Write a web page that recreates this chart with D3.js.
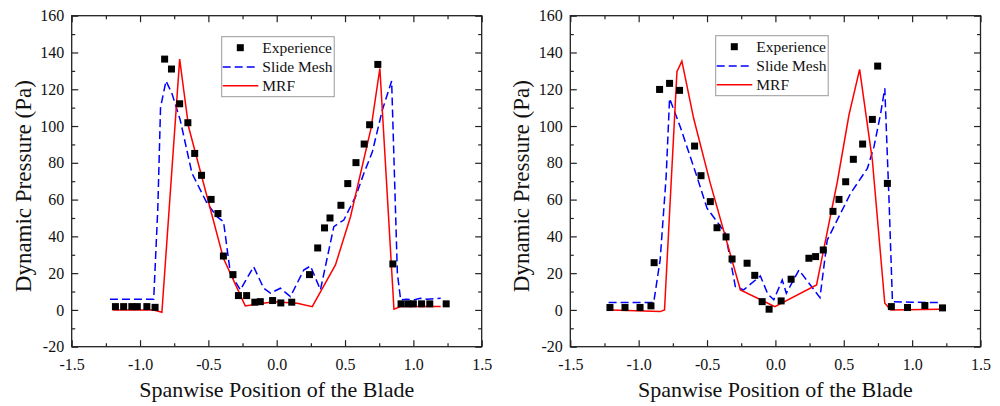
<!DOCTYPE html>
<html>
<head>
<meta charset="utf-8">
<script src="https://cdn.jsdelivr.net/npm/d3@7"></script>
<style>
  body { margin: 0; background: #fff; }
</style>
</head>
<body>
<svg id="chart"></svg>
<script>
const svgWidth = 1000;
const svgHeight = 406;

// x ticks / y ticks
const xMajor = [-1.5, -1.0, -0.5, 0.0, 0.5, 1.0, 1.5];
const xMinor = [-1.25, -0.75, -0.25, 0.25, 0.75, 1.25];
const yMajor = [-20, 0, 20, 40, 60, 80, 100, 120, 140, 160];
const yMinor = [-10, 10, 30, 50, 70, 90, 110, 130, 150];

const legendNames = ['Experience', 'Slide Mesh', 'MRF'];

// left panel
const expL_x = [-1.18,-1.12,-1.06,-1.02,-0.95,-0.89,-0.82,-0.77,-0.71,-0.65,-0.60,-0.55,-0.48,-0.43,-0.39,-0.32,-0.28,-0.22,-0.16,-0.12,-0.03,0.03,0.11,0.24,0.30,0.35,0.39,0.47,0.52,0.58,0.64,0.68,0.74,0.85,0.91,0.96,1.00,1.06,1.12,1.24];
const expL_y = [1.8,1.8,1.8,1.8,1.8,1.4,136.4,131.0,112.1,101.8,85.1,73.2,60.1,52.4,29.3,19.2,7.8,7.8,4.2,4.5,5.1,3.8,4.2,19.2,33.7,44.6,50.0,56.9,68.7,80.1,90.2,100.7,133.5,25.0,3.3,3.3,3.3,3.3,3.3,3.3];

const smL_x = [-1.22,-0.90,-0.87,-0.85,-0.81,-0.767,-0.706,-0.62,-0.51,-0.437,-0.389,-0.339,-0.266,-0.169,-0.095,-0.046,0.027,0.10,0.198,0.247,0.32,0.418,0.491,0.577,0.638,0.70,0.773,0.841,0.883,0.907,0.95,1.0,1.05,1.1,1.2];
const smL_y = [5.8,5.8,55,110,124.5,117.8,103.3,74.3,58,50.7,48,19.9,10.9,23.5,11.8,9.1,11.8,7.2,21.7,23.9,10.9,45.3,48.9,61.6,74.3,86,108.7,124.5,19.9,5.4,5.8,5.4,6.3,5.8,6.3];

const mrfL_x = [-1.20,-0.90,-0.84,-0.71,-0.645,-0.39,-0.23,-0.02,0.15,0.26,0.43,0.54,0.69,0.755,0.858,0.907,1.20];
const mrfL_y = [0,0,-1.3,136.4,99.6,28.1,2.2,4.5,3.6,1.8,24.5,50.7,98.7,131.3,0.4,1.8,1.8];

// right panel
const expR_x = [-1.21,-1.10,-0.99,-0.91,-0.887,-0.847,-0.774,-0.701,-0.591,-0.544,-0.476,-0.427,-0.361,-0.317,-0.207,-0.151,-0.097,-0.046,0.042,0.115,0.245,0.294,0.35,0.421,0.465,0.514,0.57,0.638,0.709,0.748,0.819,0.848,0.966,1.093,1.222];
const expR_y = [1.3,1.3,1.3,2.2,25.7,119.9,123.2,119.4,89.1,73.0,58.9,44.7,39.7,27.7,25.4,18.8,4.5,0.4,4.9,16.7,28.1,29.0,32.6,53.6,60.1,69.7,81.9,90.2,103.6,132.6,68.8,1.8,1.3,2.4,1.1];

const smR_x = [-1.22,-0.89,-0.843,-0.799,-0.774,-0.696,-0.574,-0.50,-0.427,-0.366,-0.293,-0.232,-0.11,-0.056,-0.012,0.05,0.08,0.172,0.326,0.379,0.428,0.55,0.673,0.721,0.77,0.80,0.831,0.856,1.0,1.198];
const smR_y = [4,4,27.2,72.5,115,99.6,72.5,55.3,48,41.7,12.7,10.9,18.5,8.7,5.5,16.3,9,21.7,6.7,38,45.3,63.4,77,88.8,106.9,120.5,59.8,4.5,4.2,4];

const mrfR_x = [-1.20,-0.843,-0.811,-0.72,-0.684,-0.598,-0.476,-0.256,-0.004,0.301,0.453,0.538,0.616,0.709,0.80,0.844,1.198];
const mrfR_y = [0,-0.9,0,129.5,135.3,104.2,68.8,10.9,1.8,13.6,69.7,106,130.8,81.5,3.6,0,0.4];

const zip = (xs, ys) => xs.map((x, i) => [x, ys[i]]);

// pick a Times-like font that is actually installed
const pickFont = () => {
  const ctx = document.createElement('canvas').getContext('2d');
  const sample = 'Spanwise Position 0.5 Experience';
  ctx.font = '40px monospace';
  const base = ctx.measureText(sample).width;
  const names = ['Liberation Serif', 'Times New Roman', 'Tinos', 'Nimbus Roman', 'DejaVu Serif', 'Noto Serif'];
  for (const n of names) {
    ctx.font = "40px '" + n + "', monospace";
    if (ctx.measureText(sample).width !== base) return "'" + n + "'";
  }
  return 'serif';
};
const fontFamily = pickFont();

const svg = d3.select('#chart')
  .attr('width', svgWidth)
  .attr('height', svgHeight)
  .style('font-family', fontFamily);

const plotTop = 15.7, plotBottom = 346.7;

const drawPanel = (left, right, data, legendX, legendY) => {
  const xScale = d3.scaleLinear().domain([-1.5, 1.5]).range([left, right]);
  const yScale = d3.scaleLinear().domain([-20, 160]).range([plotBottom, plotTop]);

  const g = svg.append('g');

  // minor ticks
  const minorAxes = [
    [d3.axisBottom(xScale).tickValues(xMinor), plotBottom, 'x'],
    [d3.axisTop(xScale).tickValues(xMinor), plotTop, 'x'],
    [d3.axisLeft(yScale).tickValues(yMinor), left, 'y'],
    [d3.axisRight(yScale).tickValues(yMinor), right, 'y']
  ];
  minorAxes.forEach(([ax, pos, dir]) => {
    g.append('g')
      .attr('transform', dir === 'x' ? 'translate(0,' + pos + ')' : 'translate(' + pos + ',0)')
      .call(ax.tickSize(-3.5).tickSizeOuter(0).tickFormat(''))
      .call(a => a.select('.domain').remove())
      .call(a => a.selectAll('line').attr('stroke', '#222').attr('stroke-width', 1.2));
  });

  // major ticks
  g.append('g')
    .attr('transform', 'translate(0,' + plotBottom + ')')
    .call(d3.axisBottom(xScale).tickValues(xMajor).tickSize(-6.5).tickSizeOuter(0).tickPadding(11.5)
      .tickFormat(d => d.toFixed(1)))
    .call(a => a.select('.domain').remove())
    .call(a => a.selectAll('line').attr('stroke', '#222').attr('stroke-width', 1.2))
    .call(a => a.selectAll('text').attr('font-size', 16).attr('font-family', fontFamily).attr('fill', '#111'));

  g.append('g')
    .attr('transform', 'translate(0,' + plotTop + ')')
    .call(d3.axisTop(xScale).tickValues(xMajor).tickSize(-6.5).tickSizeOuter(0).tickFormat(''))
    .call(a => a.select('.domain').remove())
    .call(a => a.selectAll('line').attr('stroke', '#222').attr('stroke-width', 1.2));

  g.append('g')
    .attr('transform', 'translate(' + left + ',0)')
    .call(d3.axisLeft(yScale).tickValues(yMajor).tickSize(-6.5).tickSizeOuter(0).tickPadding(7.5)
      .tickFormat(d => String(d)))
    .call(a => a.select('.domain').remove())
    .call(a => a.selectAll('line').attr('stroke', '#222').attr('stroke-width', 1.2))
    .call(a => a.selectAll('text').attr('font-size', 16).attr('font-family', fontFamily).attr('fill', '#111'));

  g.append('g')
    .attr('transform', 'translate(' + right + ',0)')
    .call(d3.axisRight(yScale).tickValues(yMajor).tickSize(-6.5).tickSizeOuter(0).tickFormat(''))
    .call(a => a.select('.domain').remove())
    .call(a => a.selectAll('line').attr('stroke', '#222').attr('stroke-width', 1.2));

  // frame
  g.append('rect')
    .attr('x', left).attr('y', plotTop)
    .attr('width', right - left).attr('height', plotBottom - plotTop)
    .attr('fill', 'none').attr('stroke', '#222').attr('stroke-width', 1.3);

  const line = d3.line().x(d => xScale(d[0])).y(d => yScale(d[1]));

  g.append('path')
    .attr('d', line(data.sm))
    .attr('fill', 'none').attr('stroke', '#0000ff').attr('stroke-width', 1.5)
    .attr('stroke-dasharray', '8,4');

  g.append('path')
    .attr('d', line(data.mrf))
    .attr('fill', 'none').attr('stroke', '#ff0000').attr('stroke-width', 1.5);

  g.selectAll('rect.pt')
    .data(data.exp)
    .enter()
    .append('rect')
    .attr('class', 'pt')
    .attr('x', d => xScale(d[0]) - 3.5)
    .attr('y', d => yScale(d[1]) - 3.5)
    .attr('width', 7).attr('height', 7)
    .attr('fill', '#000');

  // axis titles
  g.append('text')
    .attr('x', (left + right) / 2).attr('y', 397)
    .attr('text-anchor', 'middle')
    .attr('font-size', 22)
    .attr('fill', '#111')
    .text('Spanwise Position of the Blade');

  g.append('text')
    .attr('transform', 'translate(' + (left - 41) + ',' + ((plotTop + plotBottom) / 2 + 5) + ') rotate(-90)')
    .attr('text-anchor', 'middle')
    .attr('font-size', 23)
    .attr('fill', '#111')
    .text('Dynamic Pressure (Pa)');

  // legend
  const lg = g.append('g').attr('transform', 'translate(' + legendX + ',' + legendY + ')');
  lg.append('rect')
    .attr('x', 0).attr('y', 0).attr('width', 112.5).attr('height', 60)
    .attr('fill', '#fff').attr('stroke', '#999').attr('stroke-width', 1);
  const rows = [11, 30.3, 49];
  lg.append('rect')
    .attr('x', 18.6 - 3.5).attr('y', rows[0] - 3.5).attr('width', 7).attr('height', 7).attr('fill', '#000');
  lg.append('line')
    .attr('x1', 1).attr('x2', 36.6).attr('y1', rows[1]).attr('y2', rows[1])
    .attr('stroke', '#0000ff').attr('stroke-width', 1.5).attr('stroke-dasharray', '8,4');
  lg.append('line')
    .attr('x1', 1).attr('x2', 36.6).attr('y1', rows[2]).attr('y2', rows[2])
    .attr('stroke', '#ff0000').attr('stroke-width', 1.5);
  legendNames.forEach((name, i) => {
    lg.append('text')
      .attr('x', 40.6).attr('y', rows[i] + 5.5)
      .attr('font-size', 15.5)
      .attr('fill', '#111')
      .text(name);
  });
};

drawPanel(71.7, 481.7,
  { exp: zip(expL_x, expL_y), sm: zip(smL_x, smL_y), mrf: zip(mrfL_x, mrfL_y) },
  221.7, 36.7);

drawPanel(570.3, 980.5,
  { exp: zip(expR_x, expR_y), sm: zip(smR_x, smR_y), mrf: zip(mrfR_x, mrfR_y) },
  715.7, 35.7);
</script>
</body>
</html>
